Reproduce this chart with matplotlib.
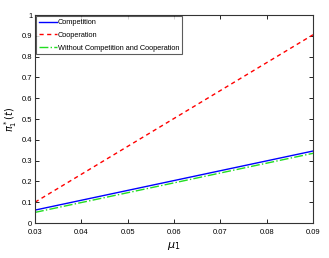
import numpy as np
import matplotlib
matplotlib.use("Agg")
import matplotlib.pyplot as plt

# ========== DATA ==========
mu1 = [0.03, 0.09]
competition = [0.062, 0.346]
cooperation = [0.10, 0.905]
no_comp_coop = [0.051, 0.335]

x_ticks = [0.03, 0.04, 0.05, 0.06, 0.07, 0.08, 0.09]
y_ticks = [0, 0.1, 0.2, 0.3, 0.4, 0.5, 0.6, 0.7, 0.8, 0.9, 1]

plt.rcParams['font.family'] = ['Liberation Sans', 'DejaVu Sans']

fig = plt.figure(figsize=(3.29, 2.58), dpi=100)
ax = fig.add_axes([35/329, 1 - 223/258, (313-35)/329, (223-15)/258])

ax.plot(mu1, competition, color='blue', lw=1.0, label='Competition')
ax.plot(mu1, cooperation, color='red', lw=1.0, ls=(0, (3, 2.5)), label='Cooperation')
ax.plot(mu1, no_comp_coop, color='#22dd22', lw=1.0, ls='-.', label='Without Competition and Cooperation')

ax.set_xlim(0.03, 0.09)
ax.set_ylim(0, 1)
ax.set_xticks(x_ticks)
ax.set_xticklabels([f"{v:g}" for v in x_ticks])
ax.set_yticks(y_ticks)
ax.set_yticklabels([f"{v:g}" for v in y_ticks])
ax.tick_params(direction='in', length=3, width=0.6, labelsize=5.5, top=True, right=True, pad=2)
ax.tick_params(axis='x', pad=4)
for s in ax.spines.values():
    s.set_linewidth(0.8)
    s.set_color('#333333')

ax.set_xlabel(r'$\mu_1$', fontsize=8, labelpad=3)
ax.set_ylabel(r'$\pi_1^*(t)$', fontsize=7, labelpad=2)

leg = ax.legend(loc='upper left', fontsize=5.3, frameon=True, fancybox=False,
                borderaxespad=0.15, handlelength=2.4, handletextpad=0.15,
                labelspacing=0.75, borderpad=0.4)
leg.get_frame().set_edgecolor('#333333')
leg.get_frame().set_linewidth(0.8)

fig.savefig('out.png', dpi=100)
